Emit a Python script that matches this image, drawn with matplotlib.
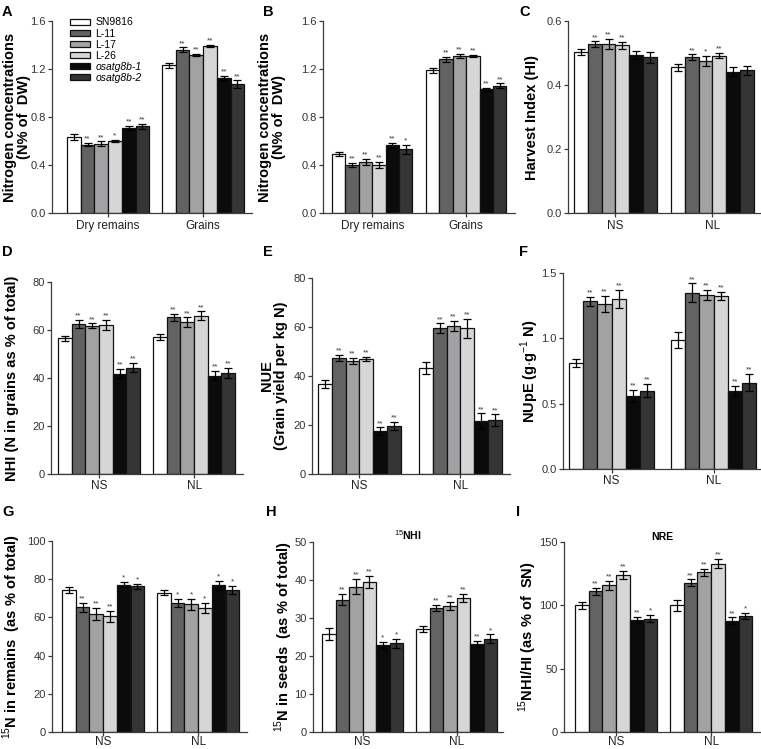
"""Nine-panel grouped bar figure (nitrogen traits of rice lines)."""

import matplotlib
matplotlib.use("Agg")
import matplotlib.pyplot as plt
import numpy as np
from matplotlib.ticker import MultipleLocator, FormatStrFormatter

plt.rcParams["font.family"] = ["Liberation Sans", "DejaVu Sans"]
plt.rcParams["mathtext.fontset"] = "custom"
plt.rcParams["mathtext.rm"] = "Liberation Sans"
plt.rcParams["mathtext.bf"] = "Liberation Sans:bold"

# ---------------------------------------------------------------------------
# Data
# ---------------------------------------------------------------------------
lines = ["SN9816", "L-11", "L-17", "L-26", "osatg8b-1", "osatg8b-2"]
line_colors = ["#ffffff", "#636363", "#a2a2a4", "#d6d6d6", "#0b0b0b", "#353535"]
tissue_groups = ["Dry remains", "Grains"]
n_groups = ["NS", "NL"]

a_mean = [[0.633, 0.570, 0.578, 0.600, 0.708, 0.722],
          [1.230, 1.360, 1.315, 1.390, 1.125, 1.075]]
a_err = [[0.025, 0.015, 0.018, 0.012, 0.018, 0.020],
         [0.020, 0.020, 0.010, 0.010, 0.020, 0.030]]
a_sig = [["", "**", "**", "*", "**", "**"],
         ["", "**", "**", "**", "**", "**"]]

b_mean = [[0.490, 0.400, 0.425, 0.400, 0.565, 0.530],
          [1.190, 1.280, 1.310, 1.310, 1.030, 1.060]]
b_err = [[0.015, 0.020, 0.025, 0.025, 0.020, 0.035],
         [0.020, 0.020, 0.015, 0.010, 0.015, 0.020]]
b_sig = [["", "**", "**", "**", "**", "*"],
         ["", "**", "**", "**", "**", "**"]]

c_mean = [[0.503, 0.527, 0.528, 0.524, 0.493, 0.486],
          [0.455, 0.487, 0.475, 0.492, 0.442, 0.446]]
c_err = [[0.008, 0.009, 0.015, 0.010, 0.013, 0.016],
         [0.010, 0.009, 0.015, 0.009, 0.013, 0.014]]
c_sig = [["", "**", "**", "**", "", ""],
         ["", "**", "*", "**", "", ""]]

d_mean = [[56.5, 62.5, 61.8, 62.2, 41.8, 44.3],
          [57.2, 65.3, 63.3, 66.0, 41.0, 42.0]]
d_err = [[1.0, 1.6, 1.0, 2.0, 2.0, 2.0],
         [1.2, 1.5, 2.0, 1.8, 2.0, 2.2]]
d_sig = [["", "**", "**", "**", "**", "**"],
         ["", "**", "**", "**", "**", "**"]]

e_mean = [[36.8, 47.5, 46.2, 47.0, 17.5, 19.5],
          [43.2, 59.5, 60.5, 59.5, 21.5, 22.0]]
e_err = [[1.7, 1.2, 1.3, 0.8, 1.5, 1.7],
         [2.5, 2.0, 2.0, 3.8, 3.2, 2.3]]
e_sig = [["", "**", "**", "**", "**", "**"],
         ["", "**", "**", "**", "**", "**"]]

f_mean = [[0.810, 1.285, 1.265, 1.300, 0.560, 0.600],
          [0.985, 1.350, 1.330, 1.325, 0.595, 0.660]]
f_err = [[0.030, 0.035, 0.060, 0.070, 0.045, 0.050],
         [0.060, 0.070, 0.040, 0.030, 0.040, 0.065]]
f_sig = [["", "**", "**", "**", "**", "**"],
         ["", "**", "**", "**", "**", "**"]]

g_mean = [[74.2, 65.2, 61.8, 60.5, 77.2, 76.2],
          [72.8, 67.5, 66.8, 65.0, 76.8, 74.5]]
g_err = [[1.5, 2.5, 3.3, 3.0, 1.5, 1.2],
         [1.3, 2.2, 3.0, 2.8, 2.2, 2.2]]
g_sig = [["", "**", "**", "**", "*", "*"],
         ["", "*", "*", "*", "*", "*"]]

h_mean = [[25.8, 34.8, 38.2, 39.5, 22.8, 23.3],
          [27.2, 32.6, 33.2, 35.3, 23.2, 24.5]]
h_err = [[1.5, 1.5, 2.0, 1.5, 1.0, 1.2],
         [0.8, 0.8, 1.0, 1.0, 0.8, 1.2]]
h_sig = [["", "**", "**", "**", "*", "*"],
         ["", "**", "**", "**", "**", "*"]]

i_mean = [[100.0, 111.0, 116.0, 124.0, 88.5, 89.5],
          [100.0, 118.0, 126.0, 133.0, 88.0, 91.5]]
i_err = [[3.0, 3.0, 3.5, 3.0, 2.5, 3.0],
         [4.5, 2.5, 2.5, 3.5, 2.5, 2.5]]
i_sig = [["", "**", "**", "**", "**", "*"],
         ["", "**", "**", "**", "**", "*"]]

# ---------------------------------------------------------------------------
# Layout (pixel measurements of the original figure)
# ---------------------------------------------------------------------------
FIG_W, FIG_H = 761, 749
AXIS_COLOR = "#3c3c3c"

panels = [
    # axis px (left, right, y0, ytop), first bar px, bar px, group2 px,
    # letter px, ylabel centre x px
    dict(letter="A", mean=a_mean, err=a_err, sig=a_sig, groups=tissue_groups,
         ylabel="Nitrogen concentrations\n(N% of  DW)", title=None,
         ymax=1.6, ystep=0.4, fmt="%.1f", box=(52, 252, 213, 21),
         first=67, bw=13.7, g2=162, lpos=(2, 12), ylx=17, xpad=2),
    dict(letter="B", mean=b_mean, err=b_err, sig=b_sig, groups=tissue_groups,
         ylabel="Nitrogen concentrations\n(N% of  DW)", title=None,
         ymax=1.6, ystep=0.4, fmt="%.1f", box=(323, 515, 213, 21),
         first=332, bw=13.4, g2=426, lpos=(263, 12), ylx=272, xpad=2),
    dict(letter="C", mean=c_mean, err=c_err, sig=c_sig, groups=n_groups,
         ylabel="Harvest Index (HI)", title=None,
         ymax=0.6, ystep=0.2, fmt="%.1f", box=(568, 760, 213, 21),
         first=574, bw=13.8, g2=671, lpos=(519, 12), ylx=532, xpad=2),
    dict(letter="D", mean=d_mean, err=d_err, sig=d_sig, groups=n_groups,
         ylabel="NHI (N in grains as % of total)", title=None,
         ymax=80, ystep=20, fmt="%d", box=(51, 243, 474, 282),
         first=58, bw=13.7, g2=153, lpos=(2, 252), ylx=12, xpad=1),
    dict(letter="E", mean=e_mean, err=e_err, sig=e_sig, groups=n_groups,
         ylabel="NUE\n(Grain yield per kg N)", title=None,
         ymax=80, ystep=20, fmt="%d", box=(312, 510, 474, 278),
         first=318, bw=13.8, g2=419, lpos=(263, 252), ylx=274, xpad=1),
    dict(letter="F", mean=f_mean, err=f_err, sig=f_sig, groups=n_groups,
         ylabel="NUpE (g$\\cdot$g$^{-1}$ N)", title=None,
         ymax=1.5, ystep=0.5, fmt="%.1f", box=(563, 760, 469, 273),
         first=569, bw=14.2, g2=671, lpos=(519, 252), ylx=530, xpad=1),
    dict(letter="G", mean=g_mean, err=g_err, sig=g_sig, groups=n_groups,
         ylabel="$^{15}$N in remains  (as % of total)", title=None,
         ymax=100, ystep=20, fmt="%d", box=(52, 247, 732, 541),
         first=62, bw=13.7, g2=157, lpos=(2, 512), ylx=12, xpad=0),
    dict(letter="H", mean=h_mean, err=h_err, sig=h_sig, groups=n_groups,
         ylabel="$^{15}$N in seeds  (as % of total)", title="$^{15}$NHI",
         ymax=50, ystep=10, fmt="%d", box=(313, 503, 732, 542),
         first=322, bw=13.5, g2=416, lpos=(266, 512), ylx=284, xpad=0),
    dict(letter="I", mean=i_mean, err=i_err, sig=i_sig, groups=n_groups,
         ylabel="$^{15}$NHI/HI (as % of  SN)", title="NRE",
         ymax=150, ystep=50, fmt="%d", box=(564, 760, 732, 542),
         first=575, bw=13.7, g2=670, lpos=(516, 512), ylx=528, xpad=0),
]


def px_rect(left, right, y0, ytop):
    return [left / FIG_W, 1 - y0 / FIG_H, (right - left) / FIG_W, (y0 - ytop) / FIG_H]


def draw_panel(fig, p):
    left, right, y0, ytop = p["box"]
    ax = fig.add_axes(px_rect(left, right, y0, ytop))

    bw = p["bw"]
    offset = (p["g2"] - p["first"]) / bw
    x_left = -0.5 - (p["first"] - left) / bw
    x_right = -0.5 + (right - p["first"]) / bw

    for gi, start in enumerate([0.0, offset]):
        xs = start + np.arange(len(lines))
        means = np.array(p["mean"][gi])
        errs = np.array(p["err"][gi])
        for k, (x, m, e) in enumerate(zip(xs, means, errs)):
            ax.bar(x, m, width=1.0, color=line_colors[k], edgecolor="#111111",
                   linewidth=0.9, label=lines[k] if gi == 0 else None, zorder=2)
            ax.errorbar(x, m, yerr=e, fmt="none", ecolor="black",
                        elinewidth=0.9, capsize=2.8, capthick=0.9, zorder=3)
            star = p["sig"][gi][k]
            if star:
                ax.text(x, m + e + p["ymax"] * 0.002, star, ha="center",
                        va="bottom", fontsize=6, color="#3a3a3a", zorder=4)

    centers = [2.5, offset + 2.5]
    ax.set_xticks(centers)
    ax.set_xticklabels(p["groups"], fontsize=8.5, color="#222222")
    ax.set_xlim(x_left, x_right)
    ax.set_ylim(0, p["ymax"])
    ax.yaxis.set_major_locator(MultipleLocator(p["ystep"]))
    ax.yaxis.set_major_formatter(FormatStrFormatter(p["fmt"]))

    for name in ("top", "right"):
        ax.spines[name].set_visible(False)
    for name in ("left", "bottom"):
        ax.spines[name].set_color(AXIS_COLOR)
        ax.spines[name].set_linewidth(0.9)
    ax.tick_params(axis="y", direction="out", length=3, width=0.9,
                   color=AXIS_COLOR, labelsize=8, labelcolor="#333333", pad=1.5)
    ax.tick_params(axis="x", direction="out", length=3, width=0.9,
                   color=AXIS_COLOR, pad=p["xpad"])

    # y label, panel letter and optional title placed in figure pixels
    fig.text(p["ylx"] / FIG_W, 1 - ((y0 + ytop) / 2) / FIG_H, p["ylabel"],
             rotation=90, ha="center", va="center", fontsize=10.5,
             fontweight="bold", multialignment="center", linespacing=1.05)
    fig.text(p["lpos"][0] / FIG_W, 1 - p["lpos"][1] / FIG_H, p["letter"],
             ha="left", va="center", fontsize=10.5, fontweight="bold")
    if p["title"]:
        ax.text(0.5, 1.0, p["title"], transform=ax.transAxes, ha="center",
                va="bottom", fontsize=7.5, fontweight="bold")
    return ax


fig = plt.figure(figsize=(FIG_W / 100, FIG_H / 100), dpi=100)
axes = [draw_panel(fig, p) for p in panels]

# legend only in panel A
handles, labels = axes[0].get_legend_handles_labels()
leg = axes[0].legend(handles, labels, loc="upper left",
                     bbox_to_anchor=(0.07, 1.04), frameon=False, fontsize=7.5,
                     handlelength=1.9, handleheight=0.55, labelspacing=0.1,
                     handletextpad=0.5, borderaxespad=0.0)
for txt in leg.get_texts():
    if txt.get_text().startswith("osatg"):
        txt.set_fontstyle("italic")

fig.savefig("out.png", dpi=100)
